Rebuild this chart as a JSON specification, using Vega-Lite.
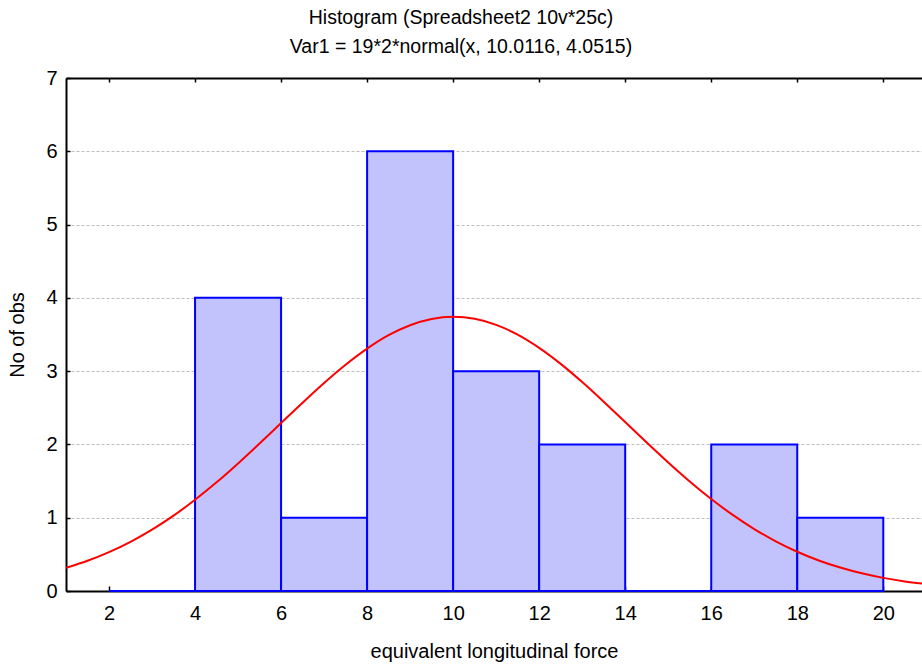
{
  "$schema": "https://vega.github.io/schema/vega-lite/v6.json",
  "width": 856,
  "height": 513,
  "autosize": {"type": "none"},
  "padding": {"left": 66, "top": 78, "right": 0, "bottom": 76},
  "background": "white",
  "title": {
    "text": ["Histogram (Spreadsheet2 10v*25c)", "Var1 = 19*2*normal(x, 10.0116, 4.0515)"],
    "fontSize": 19.5,
    "fontWeight": "normal",
    "font": "Liberation Sans",
    "lineHeight": 29,
    "offset": 11,
    "dx": -33,
    "color": "black"
  },
  "config": {
    "view": {"stroke": null},
    "axis": {
      "labelFont": "Liberation Sans",
      "titleFont": "Liberation Sans",
      "labelFontSize": 20,
      "titleFontSize": 20,
      "titleFontWeight": "normal",
      "labelColor": "black",
      "titleColor": "black",
      "domainColor": "black",
      "domainWidth": 2,
      "tickColor": "black",
      "tickWidth": 1.5
    }
  },
  "resolve": {"axis": {"x": "independent"}},
  "layer": [
    {
      "data": {
        "values": [
          {"bin_start": 2, "bin_end": 4, "count": 0},
          {"bin_start": 4, "bin_end": 6, "count": 4},
          {"bin_start": 6, "bin_end": 8, "count": 1},
          {"bin_start": 8, "bin_end": 10, "count": 6},
          {"bin_start": 10, "bin_end": 12, "count": 3},
          {"bin_start": 12, "bin_end": 14, "count": 2},
          {"bin_start": 14, "bin_end": 16, "count": 0},
          {"bin_start": 16, "bin_end": 18, "count": 2},
          {"bin_start": 18, "bin_end": 20, "count": 1}
        ]
      },
      "mark": {"type": "rect", "fill": "#c2c2fc", "stroke": "#0000ff", "strokeWidth": 2},
      "encoding": {
        "x": {
          "field": "bin_start",
          "type": "quantitative",
          "scale": {"domain": [1, 20.9], "nice": false, "zero": false},
          "axis": {
            "orient": "bottom",
            "values": [2, 4, 6, 8, 10, 12, 14, 16, 18, 20],
            "title": "equivalent longitudinal force",
            "tickSize": -5,
            "labelPadding": 17,
            "titlePadding": 18,
            "grid": false
          }
        },
        "x2": {"field": "bin_end"},
        "y": {
          "field": "count",
          "type": "quantitative",
          "scale": {"domain": [0, 7], "nice": false},
          "axis": {
            "orient": "left",
            "values": [0, 1, 2, 3, 4, 5, 6, 7],
            "title": "No of obs",
            "tickSize": -4,
            "labelPadding": 13,
            "titlePadding": 18,
            "grid": true,
            "gridColor": "#bdbdbd",
            "gridDash": [3, 2],
            "gridWidth": 1
          }
        },
        "y2": {"datum": 0}
      }
    },
    {
      "data": {
        "values": [
          {"x": 1, "y": 0.315}, {"x": 1.5, "y": 0.412}, {"x": 2, "y": 0.530}, {"x": 2.5, "y": 0.671},
          {"x": 3, "y": 0.837}, {"x": 3.5, "y": 1.028}, {"x": 4, "y": 1.245}, {"x": 4.5, "y": 1.483},
          {"x": 5, "y": 1.741}, {"x": 5.5, "y": 2.013}, {"x": 6, "y": 2.292}, {"x": 6.5, "y": 2.570},
          {"x": 7, "y": 2.839}, {"x": 7.5, "y": 3.088}, {"x": 8, "y": 3.308}, {"x": 8.5, "y": 3.491},
          {"x": 9, "y": 3.627}, {"x": 9.5, "y": 3.712}, {"x": 10, "y": 3.742}, {"x": 10.5, "y": 3.715},
          {"x": 11, "y": 3.632}, {"x": 11.5, "y": 3.498}, {"x": 12, "y": 3.317}, {"x": 12.5, "y": 3.099},
          {"x": 13, "y": 2.851}, {"x": 13.5, "y": 2.583}, {"x": 14, "y": 2.305}, {"x": 14.5, "y": 2.026},
          {"x": 15, "y": 1.754}, {"x": 15.5, "y": 1.495}, {"x": 16, "y": 1.255}, {"x": 16.5, "y": 1.038},
          {"x": 17, "y": 0.845}, {"x": 17.5, "y": 0.678}, {"x": 18, "y": 0.536}, {"x": 18.5, "y": 0.417},
          {"x": 19, "y": 0.320}, {"x": 19.5, "y": 0.241}, {"x": 20, "y": 0.179}, {"x": 20.5, "y": 0.131},
          {"x": 21, "y": 0.095}
        ]
      },
      "mark": {"type": "line", "color": "#ff0000", "strokeWidth": 2, "clip": true, "interpolate": "monotone"},
      "encoding": {
        "x": {"field": "x", "type": "quantitative", "axis": null},
        "y": {
          "field": "y",
          "type": "quantitative",
          "axis": {
            "orient": "left",
            "values": [0, 1, 2, 3, 4, 5, 6, 7],
            "title": "No of obs",
            "tickSize": -4,
            "labelPadding": 13,
            "titlePadding": 18,
            "grid": true,
            "gridColor": "#bdbdbd",
            "gridDash": [3, 2],
            "gridWidth": 1
          }
        }
      }
    },
    {
      "data": {"values": [{"t": 2}, {"t": 20}]},
      "mark": {"type": "point", "opacity": 0},
      "encoding": {
        "x": {
          "field": "t",
          "type": "quantitative",
          "axis": {
            "orient": "top",
            "values": [2, 4, 6, 8, 10, 12, 14, 16, 18, 20],
            "labels": false,
            "title": null,
            "tickSize": -4,
            "grid": false
          }
        }
      }
    }
  ]
}
